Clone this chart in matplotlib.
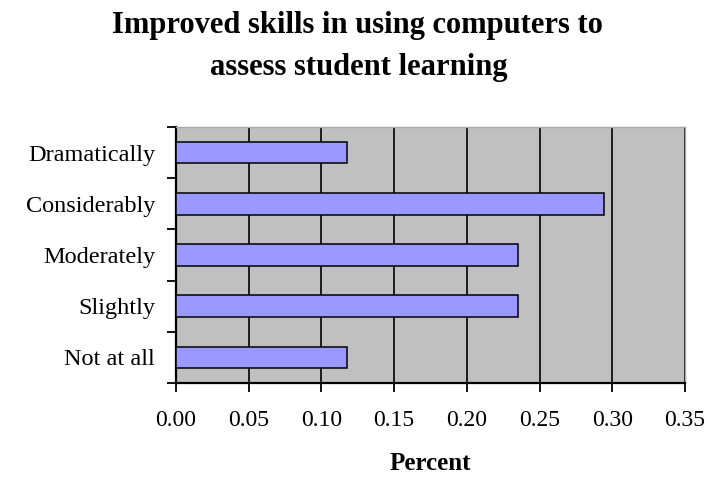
import matplotlib
matplotlib.use("Agg")
import matplotlib.pyplot as plt
import numpy as np

categories = ["Not at all", "Slightly", "Moderately", "Considerably", "Dramatically"]
values = [0.1176, 0.2353, 0.2353, 0.2941, 0.1176]
xticks = [0.00, 0.05, 0.10, 0.15, 0.20, 0.25, 0.30, 0.35]
title_lines = ["Improved skills in using computers to", "assess student learning"]
xlabel = "Percent"

plt.rcParams['font.family'] = ['Liberation Serif', 'DejaVu Serif']

W, H = 707, 478
fig = plt.figure(figsize=(W/100, H/100), dpi=100)
L, R, T, B = 176, 685, 127, 383
ax = fig.add_axes([L/W, 1-B/H, (R-L)/W, (B-T)/H])
ax.set_facecolor('#C0C0C0')

y = np.arange(len(categories))
ax.barh(y, values, height=0.42, color='#9999FF', edgecolor='black', linewidth=1.1, zorder=3)

ax.set_xlim(0, 0.35)
ax.set_ylim(-0.5, len(categories)-0.5)
ax.set_xticks(xticks)
ax.set_xticklabels([f"{v:.2f}" for v in xticks], fontsize=17)
ax.xaxis.grid(True, color='black', linewidth=1.2, zorder=1)
ax.set_axisbelow(True)

# y ticks at band boundaries, labels at centers
ax.set_yticks(np.arange(-0.5, len(categories), 1.0))
ax.set_yticklabels([])
ax.set_yticks(y, minor=True)
ax.set_yticklabels(categories, minor=True, fontsize=17.5)
ax.tick_params(axis='y', which='minor', length=0, pad=15)
ax.tick_params(axis='y', which='major', length=6.5, width=1.3, direction='out')
ax.tick_params(axis='x', length=6.5, width=1.3, direction='out', pad=13)

for s in ['left', 'bottom']:
    ax.spines[s].set_color('black')
    ax.spines[s].set_linewidth(1.6)
for s in ['top', 'right']:
    ax.spines[s].set_color('#A8A8A8')
    ax.spines[s].set_linewidth(1.0)

fig.text(357/W, 1-33/H, title_lines[0], ha='center', va='baseline',
         fontsize=22, fontweight='bold')
fig.text(359/W, 1-75/H, title_lines[1], ha='center', va='baseline',
         fontsize=22, fontweight='bold')
fig.text(430/W, 1-470/H, xlabel, ha='center', va='baseline',
         fontsize=18, fontweight='bold')

fig.savefig("out.png", dpi=100)
